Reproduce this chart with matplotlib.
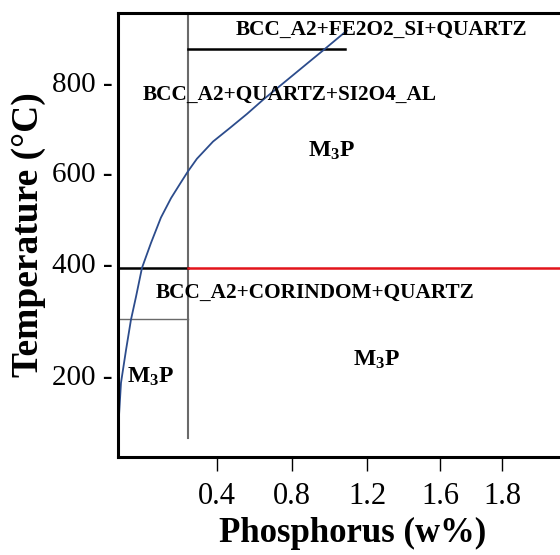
import matplotlib.pyplot as plt

plt.rcParams['font.family'] = ['Liberation Serif', 'DejaVu Serif']
plt.rcParams['mathtext.fontset'] = 'custom'
plt.rcParams['mathtext.rm'] = 'Liberation Serif'
plt.rcParams['mathtext.bf'] = 'Liberation Serif:bold'

# solubility curve of P
curve_p = [-0.128, -0.123, -0.112, -0.085, -0.059, -0.032, 0.000, 0.048, 0.101,
           0.155, 0.208, 0.245, 0.293, 0.379, 0.469, 0.560, 0.645, 0.736,
           0.827, 0.912, 0.965, 1.072, 1.093]
curve_t = [53, 60, 135, 208, 274, 325, 389, 444, 500,
           543, 578, 602, 630, 668, 698, 729, 760, 791,
           822, 851, 869, 906, 913]

# phase boundaries
boundary_p = 0.245          # vertical boundary
boundary_t = [13, 952]
eutectoid_t = 389           # three-phase line
lower_t = 276               # thin line, left field
upper_t = 873               # line under FE2O2_SI field
upper_p = [0.245, 1.083]

xlim = (-0.128, 2.379)
ylim = (-29, 952)
xtick_pos = [0.4, 0.8, 1.2, 1.59, 1.92]
xtick_lab = ['0.4', '0.8', '1.2', '1.6', '1.8']
ytick_pos = [152, 400, 600, 800]
ytick_lab = ['200 -', '400 -', '600 -', '800 -']

fig = plt.figure(figsize=(5.6, 5.55), dpi=100)
ax = fig.add_axes([118 / 560, 98 / 555, 470 / 560, 444 / 555])
ax.set_xlim(*xlim)
ax.set_ylim(*ylim)

ax.plot([boundary_p, boundary_p], boundary_t, color='#6a6a6a', lw=1.5)
ax.plot([xlim[0], boundary_p], [lower_t, lower_t], color='#6a6a6a', lw=1.0)
ax.plot([xlim[0], boundary_p], [eutectoid_t, eutectoid_t], color='black', lw=1.8)
ax.plot([boundary_p, xlim[1]], [eutectoid_t, eutectoid_t], color='#e3141b', lw=1.8)
ax.plot(upper_p, [upper_t, upper_t], color='black', lw=1.8)
ax.plot(curve_p, curve_t, color='#2c4c8c', lw=1.3, solid_joinstyle='round')

tkw = dict(fontsize=15.3, fontweight='bold', ha='center', va='center')
ax.text(1.275, 915, 'BCC_A2+FE2O2_SI+QUARTZ', **tkw)
ax.text(0.789, 771, 'BCC_A2+QUARTZ+SI2O4_AL', **tkw)
ax.text(0.923, 334, 'BCC_A2+CORINDOM+QUARTZ', **tkw)
mkw = dict(fontsize=17, fontweight='bold', ha='center', va='center')
ax.text(1.013, 647, r'$\mathbf{M_3P}$', **mkw)
ax.text(1.253, 186, r'$\mathbf{M_3P}$', **mkw)
ax.text(0.043, 148, r'$\mathbf{M_3P}$', **mkw)

for s in ['left', 'top', 'bottom']:
    ax.spines[s].set_linewidth(2.2)
ax.spines['right'].set_visible(False)

ax.set_xticks(xtick_pos)
ax.set_xticklabels(xtick_lab, fontsize=22)
ax.set_yticks(ytick_pos)
ax.set_yticklabels(ytick_lab, fontsize=21)
ax.tick_params(axis='x', direction='out', length=10, width=1.0, pad=8)
ax.tick_params(axis='y', length=0, pad=4)

ax.set_xlabel('Phosphorus (w%)', fontsize=25, fontweight='bold', labelpad=4)
ax.set_ylabel('Temperature (°C)', fontsize=27, fontweight='bold', labelpad=4)

fig.savefig('out.png', dpi=100)
